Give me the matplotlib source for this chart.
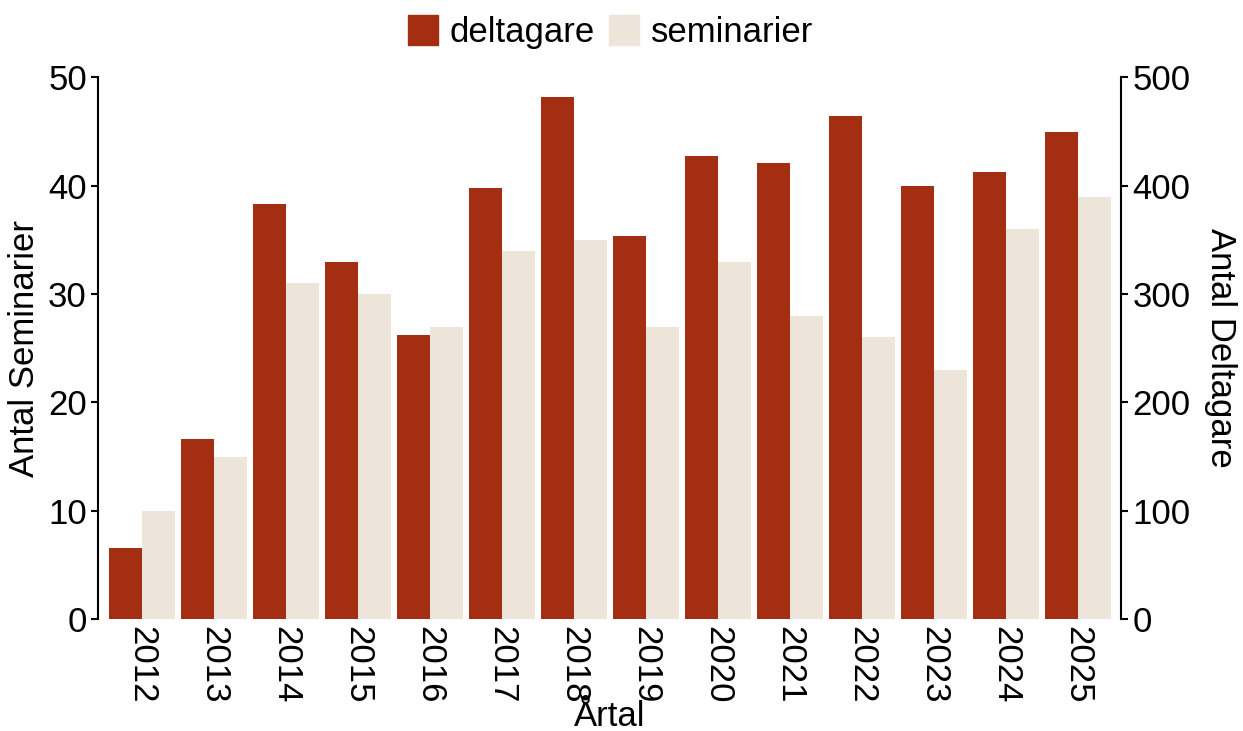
import numpy as np
import matplotlib
matplotlib.use("Agg")
import matplotlib.pyplot as plt
from matplotlib.patches import Patch

plt.rcParams['font.family'] = ['Liberation Sans', 'DejaVu Sans']

# data
years = ['2012', '2013', '2014', '2015', '2016', '2017', '2018',
         '2019', '2020', '2021', '2022', '2023', '2024', '2025']
deltagare = [66, 166, 383, 330, 262, 398, 482, 354, 427, 421, 464, 400, 413, 450]
seminarier = [10, 15, 31, 30, 27, 34, 35, 27, 33, 28, 26, 23, 36, 39]

red = '#a32e12'
beige = '#ede4da'
fs = 25

fig = plt.figure(figsize=(12.43, 7.31), dpi=100)
ax = fig.add_axes([0.0788, 0.1532, 0.8231, 0.7410])
ax2 = ax.twinx()

x = np.arange(len(years))
w = 0.458
ax.bar(x + w / 2, seminarier, w, color=beige)
ax2.bar(x - w / 2, deltagare, w, color=red)

ax.set_xlim(-0.61, len(years) - 1 + 0.6)
ax.set_ylim(0, 50)
ax2.set_ylim(0, 500)
ax.set_yticks(np.arange(0, 51, 10))
ax2.set_yticks(np.arange(0, 501, 100))
ax.set_xticks(x)
ax.set_xticklabels(years, rotation=270, fontsize=fs)

for a in (ax, ax2):
    a.spines['top'].set_visible(False)
    a.spines['bottom'].set_visible(False)
    a.spines['left'].set_linewidth(1.5)
    a.spines['right'].set_linewidth(1.5)
ax.spines['right'].set_visible(False)
ax2.spines['left'].set_visible(False)

ax.tick_params(axis='x', length=0, pad=5)
ax.tick_params(axis='y', labelsize=fs, width=1.5, length=5, pad=3)
ax2.tick_params(axis='y', labelsize=fs, width=1.5, length=5, pad=3)

ax.set_ylabel('Antal Seminarier', fontsize=fs, labelpad=5)
ax2.set_ylabel('Antal Deltagare', fontsize=fs, rotation=270, va='bottom', labelpad=10)
ax.set_xlabel('Årtal', fontsize=fs)
ax.xaxis.label.set_va('baseline')
ax.xaxis.set_label_coords(0.5, -0.198)

handles = [Patch(color=red, label='deltagare'), Patch(color=beige, label='seminarier')]
fig.legend(handles=handles, loc='center', bbox_to_anchor=(0.491, 0.956), ncol=2,
           frameon=False, fontsize=fs, handlelength=0.87, handleheight=0.93,
           handletextpad=0.33, columnspacing=0.42, borderpad=0)

fig.savefig('out.png', dpi=100)
